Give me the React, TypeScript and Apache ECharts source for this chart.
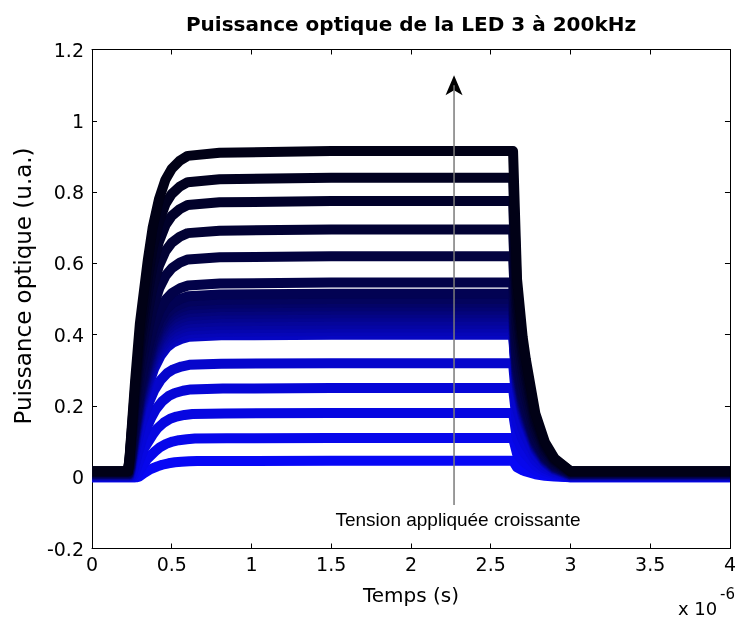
import React, { useEffect, useRef } from "react";
import * as echarts from "echarts";

// Time axis in microseconds (axis shows x 10^-6 s)
const timeUs = [0, 0.225, 0.235, 0.27, 0.30, 0.35, 0.38, 0.42, 0.46, 0.50, 0.55, 0.60, 0.80, 1.50, 2.64, 2.665, 2.70, 2.72, 2.78, 2.84, 2.90, 3.00, 4.00];
// Normalised pulse shape (0 = baseline, 1 = plateau)
const pulseShape = [0, 0, 0.04, 0.28, 0.46, 0.66, 0.76, 0.85, 0.91, 0.945, 0.97, 0.985, 0.995, 1.0, 1.0, 0.6, 0.42, 0.35, 0.18, 0.09, 0.04, 0, 0];

// Plateau level of each curve (u.a.), lowest applied voltage first
const plateauLevels = [0.046, 0.11, 0.18, 0.25, 0.32, 0.40, 0.41, 0.42, 0.43, 0.44, 0.45, 0.46, 0.47, 0.48, 0.49, 0.50, 0.515, 0.546, 0.62, 0.695, 0.775, 0.84, 0.915];
// Extra delay of the rising edge for each curve (µs)
const riseLag = [0.06, 0.045, 0.03, 0.02, 0.01, 0.01, 0.008, 0.008, 0.006, 0.006, 0.005, 0.005, 0.004, 0.004, 0.003, 0.003, 0.002, 0.002, 0.001, 0, 0, 0, 0];
// Baseline (offset) of each curve (u.a.)
const baselines = [0, 0, 0.001, 0.002, 0.003, 0.004, 0.005, 0.006, 0.006, 0.007, 0.008, 0.008, 0.009, 0.01, 0.01, 0.011, 0.012, 0.013, 0.014, 0.015, 0.016, 0.017, 0.017];

// Arrow annotation (µs, u.a.)
const arrowX = 2.27;
const arrowY = [-0.078, 1.1];
const arrowText = "Tension appliquée croissante";

const xTicks = { min: 0, max: 4, interval: 0.5 };
const yTicks = { min: -0.2, max: 1.2, interval: 0.2 };

function curveColor(i: number, n: number) {
  const f = i / (n - 1);
  const b = Math.round(245 - f * 223);
  const rg = Math.round(b * 0.03);
  return `rgb(${rg},${rg},${b})`;
}

export default function App() {
  const ref = useRef<HTMLDivElement>(null);
  useEffect(() => {
    if (!ref.current) return;
    const chart = echarts.init(ref.current, undefined, { renderer: "svg" });
    const n = plateauLevels.length;
    const curves = plateauLevels.map((lvl, i) => {
      const base = baselines[i];
      const data = timeUs.map((t, k) => {
        const tt = t > 0.1 && t < 1.0 ? t + riseLag[i] : t;
        return [tt, base + (lvl - base) * pulseShape[k]];
      });
      return {
        type: "line",
        data,
        symbol: "none",
        silent: true,
        z: 2,
        lineStyle: { width: 10, color: curveColor(i, n), join: "round", cap: "butt" },
      };
    });
    const axisFont = { color: "#000", fontFamily: "DejaVu Sans", fontSize: 19 };
    const option: any = {
      animation: false,
      title: {
        text: "Puissance optique de la LED 3 à 200kHz",
        left: 406,
        top: 9,
        textAlign: "center",
        textStyle: { fontFamily: "DejaVu Sans", fontWeight: "bold", fontSize: 20, color: "#000" },
      },
      grid: { left: 92, right: 2, top: 49.5, bottom: 70.5, containLabel: false },
      xAxis: [
        {
          type: "value",
          ...xTicks,
          position: "bottom",
          axisLine: { show: true, onZero: false, lineStyle: { color: "#000", width: 1 } },
          axisTick: { show: true, inside: true, length: 5, lineStyle: { color: "#000" } },
          axisLabel: { ...axisFont, margin: 6 },
          splitLine: { show: false },
          name: "Temps (s)",
          nameLocation: "middle",
          nameGap: 36,
          nameTextStyle: { color: "#000", fontFamily: "DejaVu Sans", fontSize: 20 },
        },
        {
          type: "value",
          ...xTicks,
          position: "top",
          axisLine: { show: true, onZero: false, lineStyle: { color: "#000", width: 1 } },
          axisTick: { show: true, inside: true, length: 5, lineStyle: { color: "#000" } },
          axisLabel: { show: false },
          splitLine: { show: false },
        },
      ],
      yAxis: [
        {
          type: "value",
          ...yTicks,
          position: "left",
          axisLine: { show: true, onZero: false, lineStyle: { color: "#000", width: 1 } },
          axisTick: { show: true, inside: true, length: 5, lineStyle: { color: "#000" } },
          axisLabel: { ...axisFont, margin: 8 },
          splitLine: { show: false },
        },
        {
          type: "value",
          ...yTicks,
          position: "right",
          axisLine: { show: true, onZero: false, lineStyle: { color: "#000", width: 1 } },
          axisTick: { show: true, inside: true, length: 5, lineStyle: { color: "#000" } },
          axisLabel: { show: false },
          splitLine: { show: false },
        },
      ],
      series: [
        ...curves,
        {
          type: "line",
          data: [[arrowX, arrowY[0]], [arrowX, arrowY[1]]],
          symbol: "none",
          silent: true,
          z: 5,
          lineStyle: { width: 1.5, color: "#7a7a7a" },
          markPoint: {
            silent: true,
            symbol: "path://M8.5,0L17,20L8.5,15L0,20Z",
            symbolSize: [17, 20],
            itemStyle: { color: "#000" },
            label: { show: false },
            data: [{ coord: [arrowX, arrowY[1]] }],
          },
        },
      ],
      graphic: [
        {
          type: "text",
          x: 23,
          y: 286,
          rotation: Math.PI / 2,
          style: { text: "Puissance optique (u.a.)", font: '23px "DejaVu Sans"', fill: "#000", align: "center", verticalAlign: "middle" },
        },
        {
          type: "text",
          x: 458,
          y: 519,
          style: { text: arrowText, font: '19px "Liberation Sans"', fill: "#000", align: "center", verticalAlign: "middle" },
        },
        {
          type: "text",
          x: 678,
          y: 608,
          style: { text: "x 10", font: '18px "DejaVu Sans"', fill: "#000", align: "left", verticalAlign: "middle" },
        },
        {
          type: "text",
          x: 720,
          y: 594,
          style: { text: "-6", font: '15px "DejaVu Sans"', fill: "#000", align: "left", verticalAlign: "middle" },
        },
      ],
    };
    chart.setOption(option);
    return () => chart.dispose();
  }, []);
  return <div ref={ref} style={{ position: "fixed", left: 0, top: 0, width: 739, height: 619 }} />;
}
